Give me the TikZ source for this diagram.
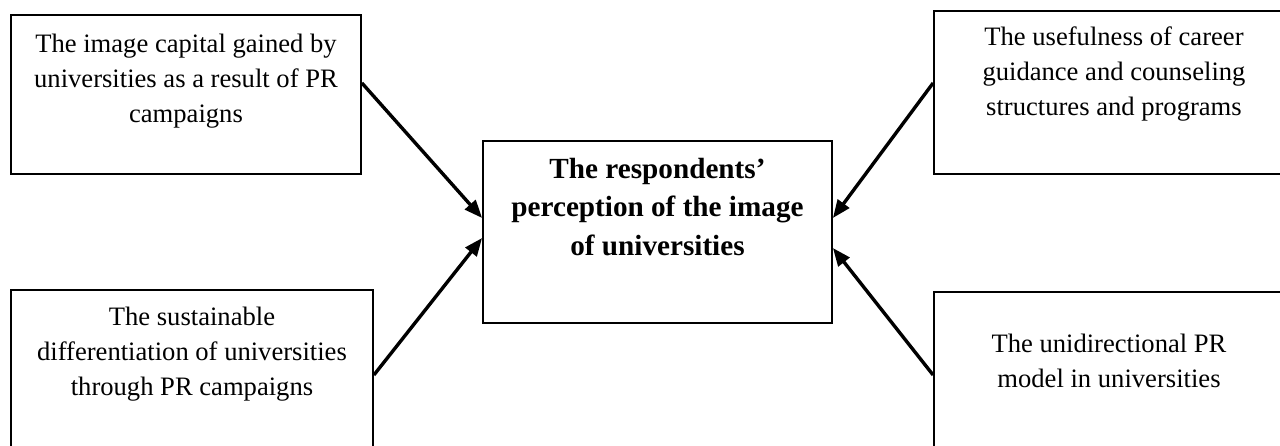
\documentclass[tikz,border=0pt]{standalone}
\usepackage{fontspec}
\setmainfont{Liberation Serif}
\usepackage{tikz}
\usetikzlibrary{positioning, arrows.meta}

\begin{document}
\begin{tikzpicture}[
    x=0.5pt, y=-0.5pt,
    factor/.style={rectangle, draw, line width=0.9pt, inner sep=0pt, align=flush center,
        font=\fontsize{13.3}{17.5}\selectfont},
    outcome/.style={factor, font=\fontsize{14.6}{19.25}\selectfont\bfseries},
    influence/.style={-{Triangle[length=9pt, width=7pt]}, line width=1.7pt}
]

% Page area
\useasboundingbox (0,0) rectangle (1280,445);
\clip (0,0) rectangle (1280,445);

% Central box
\node[outcome, text width=174.5pt, text height=18.5pt, text depth=72.5pt] (perception) at (657.5,232)
    {The respondents'\\ perception of the image\\ of universities};

% Left boxes
\node[factor, text width=175pt, text height=18.5pt, text depth=61pt] (capital) at (186,94.5)
    {The image capital gained by\\ universities as a result of PR\\ campaigns};
\node[factor, text width=181pt, text height=17.5pt, text depth=72.5pt] (differentiation) at (192,380)
    {The sustainable\\ differentiation of universities\\ through PR campaigns};

% Right boxes
\node[factor, text width=180pt, text height=17pt, text depth=64.5pt] (usefulness) at (1114,92.5)
    {The usefulness of career\\ guidance and counseling\\ structures and programs};
\node[factor, text width=175pt, text height=30pt, text depth=59pt] (unidirectional) at (1109,381)
    {The unidirectional PR\\ model in universities};

% Arrows into the central box
\draw[influence] ([yshift=5.75pt]capital.east) -- ([yshift=7pt]perception.west);
\draw[influence] ([yshift=2.5pt]differentiation.east) -- ([yshift=-3pt]perception.west);
\draw[influence] ([yshift=4.75pt]usefulness.west) -- ([yshift=7pt]perception.east);
\draw[influence] ([yshift=3pt]unidirectional.west) -- ([yshift=-8pt]perception.east);

\end{tikzpicture}
\end{document}
